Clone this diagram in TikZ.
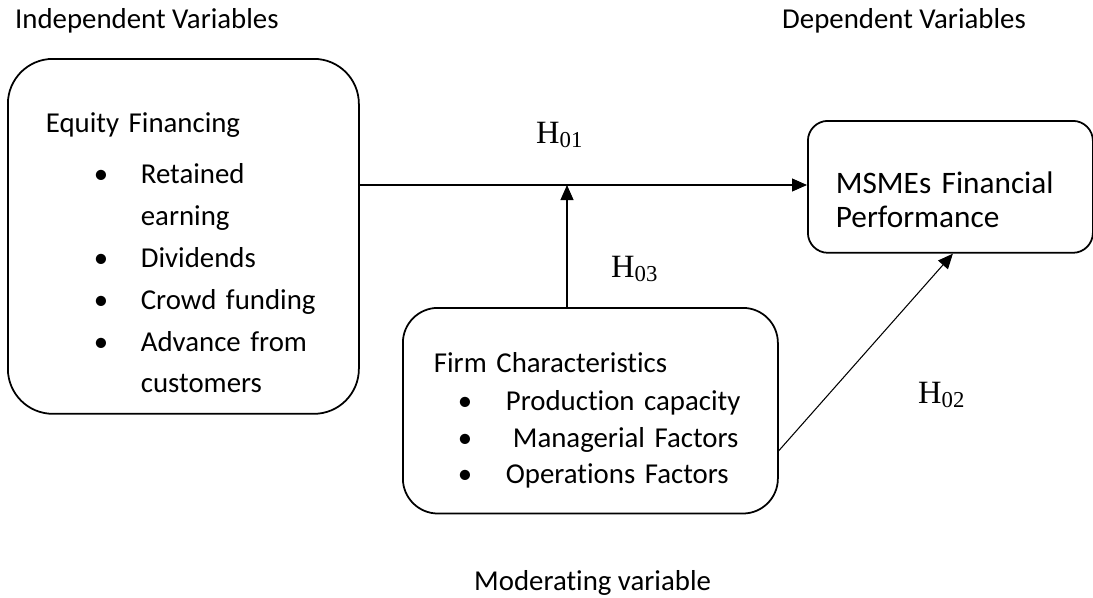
\documentclass[tikz,border=0pt]{standalone}
\usepackage{fontspec}
\setmainfont{Carlito}[Ligatures=NoCommon]
\newfontfamily\timesfont{Liberation Serif}
\usetikzlibrary{arrows.meta}
\setlength\parindent{0pt}
\newcommand{\itm}[3]{\hspace*{#1}\makebox[#2][l]{\textbullet}#3}
\tikzset{
    % boxes and arrows
    varbox/.style={draw, line width=1pt, align=left, inner ysep=0pt, anchor=north west},
    myarr/.style={-{Triangle[length=0.3cm,width=0.26cm]}, line width=0.6pt},
    hlab/.style={anchor=base west, font=\timesfont\fontsize{18.5}{20}\selectfont},
    toplab/.style={anchor=base west, font=\fontsize{16.4}{20}\selectfont}
}
\begin{document}
\begin{tikzpicture}
    \useasboundingbox (0,0) rectangle (21.86,-11.94);
 % headings
    \node[toplab] (IV) at (0.18,-0.56) {Independent Variables};
    \node[toplab] (DV) at (15.52,-0.56) {Dependent Variables};
    \node[toplab] (MV) at (9.36,-11.8) {Moderating variable};

 % boxes
    \node (EF) at (0.14,-1.16) [varbox, rounded corners=0.9cm, inner xsep=0.76cm, text width=5.5cm,
        font=\fontsize{16.4}{23.8}\selectfont] {\rule{0pt}{1.48cm}Equity Financing\\[0.18cm]
        \itm{0.96cm}{0.94cm}{Retained}\\
        \hspace*{1.9cm}earning\\
        \itm{0.96cm}{0.94cm}{Dividends}\\
        \itm{0.96cm}{0.94cm}{Crowd funding}\\
        \itm{0.96cm}{0.94cm}{Advance from}\\
        \hspace*{1.9cm}customers\rule[-0.42cm]{0pt}{0pt}};
    \node (MS) at (16.14,-2.4) [varbox, rounded corners=0.4cm, inner xsep=0.56cm, text width=4.58cm,
        font=\fontsize{17.8}{19.3}\selectfont] {\rule{0pt}{1.46cm}MSMEs Financial\\
        Performance\rule[-0.5cm]{0pt}{0pt}};
    \node (FC) at (8.04,-6.14) [varbox, rounded corners=0.7cm, inner xsep=0.62cm, text width=6.26cm,
        font=\fontsize{16.4}{20.7}\selectfont] {\rule{0pt}{1.3cm}Firm Characteristics\\[0.03cm]
        \itm{0.48cm}{0.96cm}{Production capacity}\\
        \itm{0.48cm}{0.96cm}{\hspace{0.14cm}Managerial Factors}\\
        \itm{0.48cm}{0.96cm}{Operations Factors}\rule[-0.6cm]{0pt}{0pt}};

    \coordinate (mid) at (11.34,-3.70);

 % labels
    \node[hlab] (H1) at (10.6,-2.86) {H\textsubscript{01}};
    \node[hlab] (H3) at (12.1,-5.54) {H\textsubscript{03}};
    \node[hlab] (H2) at (18.24,-8.06) {H\textsubscript{02}};

 % ARROWS
    \draw[myarr] (EF.east |- mid) -- (MS.west |- mid);
    \draw[myarr] (mid |- FC.north) -- (mid);
    \draw[myarr] (FC.-12) -- ([xshift=0.05cm]MS.south);

\end{tikzpicture}
\end{document}
